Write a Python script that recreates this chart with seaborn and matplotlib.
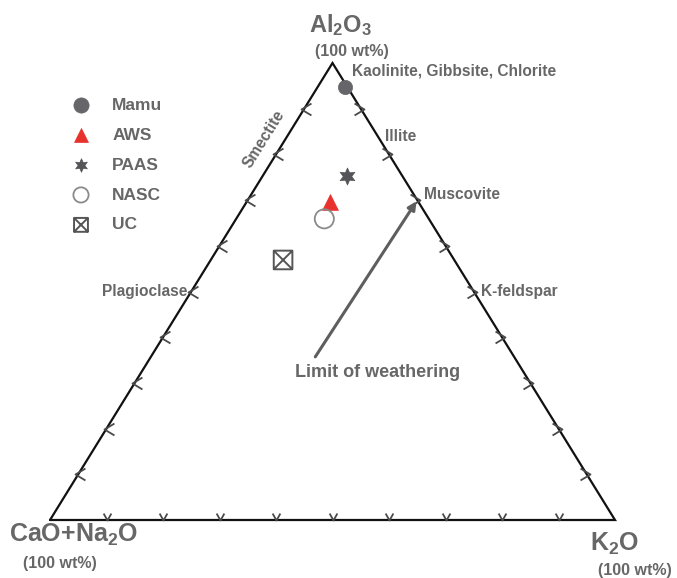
import matplotlib
matplotlib.use("Agg")
import matplotlib.pyplot as plt
from matplotlib.path import Path
import numpy as np
import seaborn as sns

# Sample compositions (wt%, normalised to Al2O3 + CaO+Na2O + K2O = 100)
samples = ["Mamu", "AWS", "PAAS", "NASC", "UC"]
al2o3 = [94.7, 69.6, 75.3, 65.9, 56.9]
cao_na2o = [0.5, 15.6, 9.8, 18.5, 30.3]
k2o = [4.8, 14.8, 14.9, 15.6, 12.8]

# Reference minerals placed on the triangle edges (Al2O3, CaO+Na2O, K2O)
minerals = ["Kaolinite, Gibbsite, Chlorite", "Illite", "Muscovite", "K-feldspar", "Plagioclase", "Smectite"]
mineral_al2o3 = [100, 80, 70, 50, 50, 83]
mineral_cn = [0, 0, 0, 0, 50, 17]
mineral_k2o = [0, 20, 30, 50, 0, 0]

# Weathering-limit arrow (tail -> tip)
limit_al2o3 = [35.7, 70]
limit_cn = [35.2, 0]
limit_k2o = [29.1, 30]

tick_steps = [10, 20, 30, 40, 50, 60, 70, 80, 90]

sns.set_theme(style="white")
plt.rcParams["font.family"] = ["Liberation Sans", "DejaVu Sans"]
plt.rcParams["mathtext.fontset"] = "custom"
plt.rcParams["mathtext.rm"] = "Liberation Sans:bold"
plt.rcParams["mathtext.default"] = "rm"

TXT = "#676767"
GREY = "#66666a"
RED = "#e8302c"


def tern(a, cn, k):
    a, cn, k = (np.asarray(v, dtype=float) for v in (a, cn, k))
    s = a + cn + k
    return (k + a / 2) / s, a / s


fig = plt.figure(figsize=(6.77, 5.78), dpi=100)
ax = fig.add_axes([0, 0, 1, 1])
ax.set_xlim(-50 / 565, 627 / 565)
ax.set_ylim(-58 / 457, 520 / 457)
ax.axis("off")

# Triangle outline
cx, cy = tern([0, 0, 100, 0], [100, 0, 0, 100], [0, 100, 0, 0])
ax.plot(cx, cy, color="#111111", lw=1.6, solid_joinstyle="miter", zorder=2)

# Chevron ticks every 10 %
steps = np.array(tick_steps, dtype=float)
left_m = [(0.7, 0.6), (-0.3, 0.0), (0.7, -0.6)]
right_m = [(-0.7, 0.6), (0.3, 0.0), (-0.7, -0.6)]
bottom_m = [(-0.5, 0.9), (0.0, 0.0), (0.5, 0.9)]
tk = dict(ls="none", mfc="none", mec="#4a4a4a", mew=1.3, ms=10, zorder=3)
lx, ly = tern(steps, 100 - steps, 0 * steps)
ax.plot(lx, ly, marker=left_m, **tk)
rx, ry = tern(steps, 0 * steps, 100 - steps)
ax.plot(rx, ry, marker=right_m, **tk)
bx, by = tern(0 * steps, 100 - steps, steps)
ax.plot(bx, by, marker=bottom_m, **tk)

# Vertex labels
vlab = dict(color=TXT, fontweight="bold", ha="center", va="center", textcoords="offset points")
tx, ty = tern(100, 0, 0)
ax.annotate(r"Al$_2$O$_3$", (tx, ty), xytext=(6, 27), fontsize=17, **vlab)
ax.annotate("(100 wt%)", (tx, ty), xytext=(14, 8), fontsize=11.5, **vlab)
Lx, Ly = tern(0, 100, 0)
ax.annotate(r"CaO+Na$_2$O", (Lx, Ly), xytext=(17, -11), fontsize=18, **vlab)
ax.annotate("(100 wt%)", (Lx, Ly), xytext=(7, -31), fontsize=11.5, **vlab)
Rx, Ry = tern(0, 0, 100)
ax.annotate(r"K$_2$O", (Rx, Ry), xytext=(0, -17), fontsize=18, **vlab)
ax.annotate("(100 wt%)", (Rx, Ry), xytext=(14, -36), fontsize=11.5, **vlab)

# Mineral labels
mx, my = tern(mineral_al2o3, mineral_cn, mineral_k2o)
offsets = [(14, -6), (-3, 13), (5, 4), (5, 0), (-3, 0), (-15, 1.5)]
align = ["left", "left", "left", "left", "right", "center"]
rot = [0, 0, 0, 0, 0, 58]
for name, x, y, off, ha, r in zip(minerals, mx, my, offsets, align, rot):
    ax.annotate(name, (x, y), xytext=off, textcoords="offset points", fontsize=11.2,
                fontweight="bold", color=TXT, ha=ha, va="center", rotation=r,
                rotation_mode="anchor")

# Weathering limit arrow and label
ax_, ay_ = tern(limit_al2o3, limit_cn, limit_k2o)
ax.annotate("", xy=(ax_[1], ay_[1]), xytext=(ax_[0], ay_[0]),
            arrowprops=dict(arrowstyle="-|>", color="#5e5e5e", lw=2.2, mutation_scale=12,
                            shrinkA=0, shrinkB=1), zorder=3)
ax.annotate("Limit of weathering", (ax_[0], ay_[0]), xytext=(45, -11), textcoords="offset points",
            fontsize=13, fontweight="bold", color=TXT, ha="center", va="center")

# Samples
px, py = tern(al2o3, cao_na2o, k2o)
box_path = Path([(-1, -1), (1, -1), (1, 1), (-1, 1), (-1, -1), (-1, -1), (1, 1), (-1, 1), (1, -1)],
                [Path.MOVETO, Path.LINETO, Path.LINETO, Path.LINETO, Path.CLOSEPOLY,
                 Path.MOVETO, Path.LINETO, Path.MOVETO, Path.LINETO])
styles = {
    "Mamu": dict(marker="o", s=105, color=GREY, edgecolor=GREY, linewidth=0.5),
    "AWS": dict(marker="^", s=130, color=RED, edgecolor=RED, linewidth=0.5),
    "PAAS": dict(marker=(6, 1, 0), s=150, color="#555559", edgecolor="#555559", linewidth=0.5),
    "NASC": dict(marker="o", s=190, color="#8a8a8a", facecolor="none", edgecolor="#8a8a8a", linewidth=1.3),
    "UC": dict(marker=box_path, s=180, color="#555555", facecolor="none", edgecolor="#555555", linewidth=1.4),
}
legend_sizes = {"Mamu": 120, "AWS": 100, "PAAS": 95, "NASC": 120, "UC": 100}
for name, x, y in zip(samples, px, py):
    sns.scatterplot(x=[x], y=[y], ax=ax, label=name, zorder=4, **styles[name])

leg = ax.legend(loc="upper left", bbox_to_anchor=(48 / 677, 1 - 82 / 578),
                bbox_transform=fig.transFigure, frameon=False,
                prop=dict(weight="bold", size=12.5), labelcolor=TXT,
                labelspacing=0.85, handletextpad=0.8, handlelength=2.0, borderpad=0.4)
for handle, text in zip(leg.legend_handles, leg.get_texts()):
    handle.set_sizes([legend_sizes[text.get_text()]])

fig.savefig("out.png", dpi=100)
